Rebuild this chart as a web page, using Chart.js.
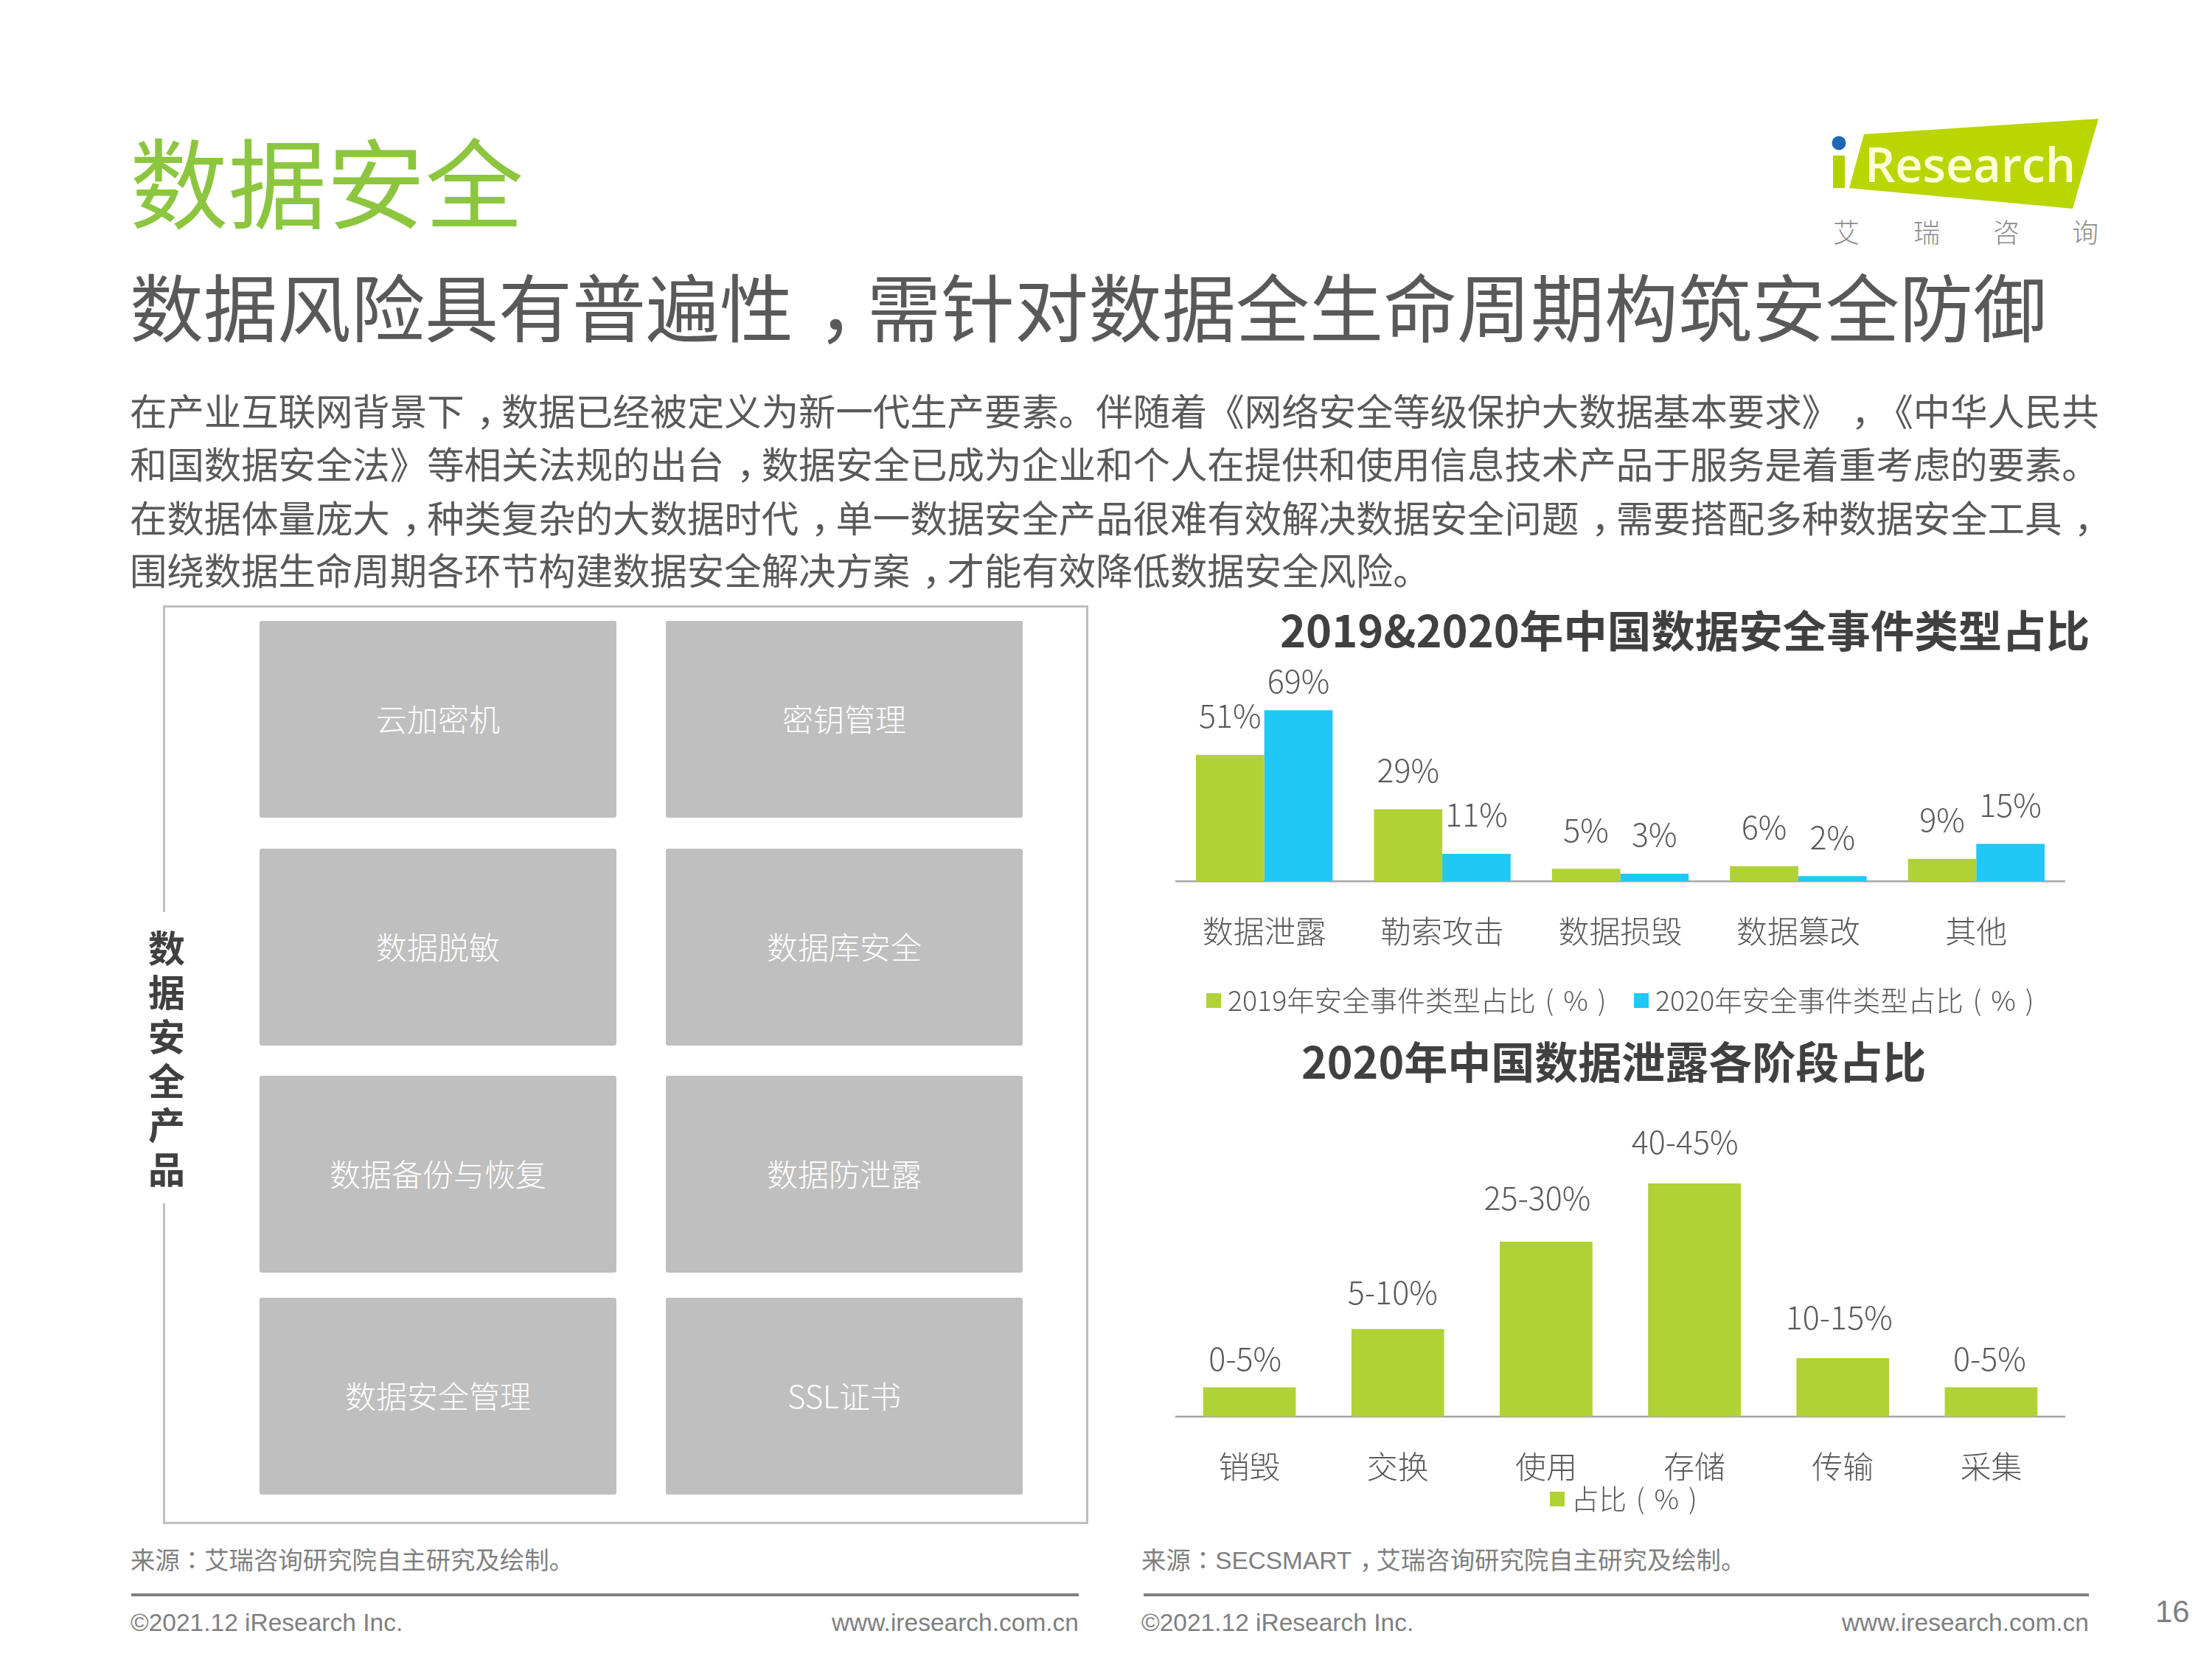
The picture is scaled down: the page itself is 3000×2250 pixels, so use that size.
<!DOCTYPE html>
<html lang="zh-CN">
<head>
<meta charset="utf-8">
<title>数据安全</title>
<script src="https://cdn.jsdelivr.net/npm/chart.js@4"></script>
<style>
  html, body { margin: 0; padding: 0; background: #fff; }
  #page { position: relative; width: 3000px; height: 2250px; overflow: hidden; font-family: "Noto Sans CJK SC", sans-serif; font-weight: 300; color: #595959; text-spacing-trim: space-all; }
  #page > * { position: absolute; }
  .t { white-space: nowrap; line-height: 1; }
  /* the slide centres its colons and commas in the cell */
  .punct { font-family: "Noto Sans CJK TC", sans-serif; }
  .comma { margin-left: 0.33em; letter-spacing: -0.33em; }
  .body-line { left: 176px; font-size: 50.4px; font-weight: 400; }
  .chart-title { font-weight: 700; color: #404040; }
  .box { background: #bfbfbf; border-radius: 3px; color: #fff; font-size: 42px; display: flex; align-items: center; justify-content: center; width: 484px; padding-bottom: 4px; box-sizing: border-box; }
  .source { font: 33.4px "Liberation Sans", "Noto Sans CJK SC", sans-serif; color: #7f7f7f; }
  .foot { font: 33.5px "Liberation Sans", sans-serif; color: #7f7f7f; }
  .rule { height: 4px; background: #808080; top: 2161px; }
  canvas { display: block; }
</style>
</head>
<body>
<div id="page">
  <div class="t" style="left:176px;top:175px;font-size:133.5px;color:#8cc63f;font-weight:400">数据安全</div>
  <div class="t" style="left:176px;top:363px;font-size:100px;font-weight:400">数据风险具有普遍性，需针对数据全生命周期构筑安全防御</div>

  <svg style="left:2470px;top:150px" width="400" height="190" viewBox="2470 150 400 190">
    <polygon points="2528,182 2846,161 2811,283 2508,255" fill="#bad600"/>
    <rect x="2486" y="211" width="16" height="44" fill="#b5d000"/>
    <circle cx="2494" cy="194" r="9.5" fill="#2166b5"/>
    <text x="2529" y="247" font-family="Open Sans" font-weight="600" font-size="66" textLength="286" lengthAdjust="spacingAndGlyphs" fill="#feffd8">Research</text>
    <g font-family="Noto Sans CJK SC" font-weight="300" font-size="36" fill="#8c8c8c" text-anchor="middle">
      <text x="2504" y="329">艾</text><text x="2613" y="329">瑞</text><text x="2721" y="329">咨</text><text x="2828" y="329">询</text>
    </g>
  </svg>

  <div class="t body-line" style="top:531px">在产业互联网背景下，数据已经被定义为新一代生产要素。伴随着《网络安全等级保护大数据基本要求》，《中华人民共</div>
  <div class="t body-line" style="top:603px">和国数据安全法》等相关法规的出台，数据安全已成为企业和个人在提供和使用信息技术产品于服务是着重考虑的要素。</div>
  <div class="t body-line" style="top:676px">在数据体量庞大，种类复杂的大数据时代，单一数据安全产品很难有效解决数据安全问题，需要搭配多种数据安全工具，</div>
  <div class="t body-line" style="top:747px">围绕数据生命周期各环节构建数据安全解决方案，才能有效降低数据安全风险。</div>

  <div style="left:221px;top:821px;width:1255px;height:1246px;border:3.5px solid #bfbfbf;box-sizing:border-box"></div>
  <div style="left:205px;top:1237px;width:45px;height:395px;background:#fff"></div>
  <div class="t" style="left:201px;top:1261px;font-size:50px;font-weight:700;color:#404040;writing-mode:vertical-rl;text-orientation:upright;letter-spacing:10px">数据安全产品</div>
  <div id="boxes" style="left:0;top:0"></div>

  <div class="t chart-title" style="left:1736px;top:823px;font-size:59.5px">2019&amp;2020年中国数据安全事件类型占比</div>
  <div style="left:1594px;top:880px"><canvas id="typeChart" width="1207" height="515"></canvas></div>
  <div class="t chart-title" style="left:1765px;top:1408px;font-size:59px">2020年中国数据泄露各阶段占比</div>
  <div style="left:1594px;top:1480px"><canvas id="stageChart" width="1207" height="590"></canvas></div>

  <div class="t source" style="left:177px;top:2089px">来源：艾瑞咨询研究院自主研究及绘制。</div>
  <div class="t source" style="left:1548px;top:2089px">来源：SECSMART，艾瑞咨询研究院自主研究及绘制。</div>
  <div class="rule" style="left:178px;width:1285px"></div>
  <div class="rule" style="left:1551px;width:1282px"></div>
  <div class="t foot" style="left:177px;top:2182px">©2021.12 iResearch Inc.</div>
  <div class="t foot" style="right:1537px;top:2182px">www.iresearch.com.cn</div>
  <div class="t foot" style="left:1548px;top:2182px">©2021.12 iResearch Inc.</div>
  <div class="t foot" style="right:167px;top:2182px">www.iresearch.com.cn</div>
  <div class="t foot" style="left:2923px;top:2162px;font-size:42px">16</div>
</div>

<script>
// chart data
const typeCategories = ['数据泄露', '勒索攻击', '数据损毁', '数据篡改', '其他'];
const types2019 = [51, 29, 5, 6, 9];
const types2020 = [69, 11, 3, 2, 15];
const typeSeriesNames = ['2019年安全事件类型占比（%）', '2020年安全事件类型占比（%）'];

const stageCategories = ['销毁', '交换', '使用', '存储', '传输', '采集'];
const stageValues = [5, 15, 30, 40, 10, 5];
const stageLabels = ['0-5%', '5-10%', '25-30%', '40-45%', '10-15%', '0-5%'];
const stageSeriesName = '占比（%）';

const productNames = ['云加密机', '密钥管理', '数据脱敏', '数据库安全', '数据备份与恢复', '数据防泄露', '数据安全管理', 'SSL证书'];

const GREEN = '#b1d235';
const BLUE = '#1fc8f5';
const TEXT = '#595959';
const FONT = '"Noto Sans CJK SC", sans-serif';

// swap commas and colons in the page text to the centred glyphs
document.querySelectorAll('.t').forEach(el => {
  el.innerHTML = el.innerHTML
    .replace(/，/g, '<span class="comma">，</span>')
    .replace(/：/g, '<span class="punct" lang="zh-TW">：</span>');
});

// product boxes
const rowTops = [842, 1151, 1459, 1760];
const colLefts = [352, 903];
const boxHeight = 267;
const boxes = document.getElementById('boxes');
productNames.forEach((name, i) => {
  const box = document.createElement('div');
  box.className = 'box';
  box.textContent = name;
  box.style.cssText = `position:absolute;left:${colLefts[i % 2]}px;top:${rowTops[Math.floor(i / 2)]}px;height:${boxHeight}px`;
  boxes.appendChild(box);
});

// value labels above the bars, chart.js has no built in data labels
const valueLabels = {
  id: 'valueLabels',
  afterDatasetsDraw(chart, args, opts) {
    const ctx = chart.ctx;
    ctx.save();
    ctx.font = `300 43px ${FONT}`;
    ctx.fillStyle = TEXT;
    ctx.textAlign = 'center';
    ctx.textBaseline = 'middle';
    chart.data.datasets.forEach((ds, d) => {
      chart.getDatasetMeta(d).data.forEach((bar, i) => {
        const lift = opts.lift[i] !== undefined ? opts.lift[i] : opts.lift;
        const dx = opts.dx ? opts.dx[i] : 0;
        const y = Math.max(bar.y - lift, opts.minY || 0);
        ctx.fillText(opts.text ? opts.text[i] : ds.data[i] + '%', bar.x + dx, y);
      });
    });
    ctx.restore();
  }
};

// legend row drawn by hand, the built in one has a wider gap after the box
const legendRow = {
  id: 'legendRow',
  afterDraw(chart, args, opts) {
    const ctx = chart.ctx;
    ctx.save();
    ctx.textBaseline = 'middle';
    chart.data.datasets.forEach((ds, d) => {
      const x = opts.x[d];
      ctx.fillStyle = ds.backgroundColor;
      ctx.fillRect(x, opts.y - 10, 20, 20);
      ctx.fillStyle = TEXT;
      // brackets sit centred in their cell on the slide, so place them by hand
      let textX = x + 29;
      ds.label.split(/([（）])/).filter(Boolean).forEach(part => {
        ctx.font = `300 37.5px ${FONT}`;
        if (/[（）]/.test(part)) {
          const ascii = part === '（' ? '(' : ')';
          const cell = 37.5;
          ctx.fillText(ascii, textX + (cell - ctx.measureText(ascii).width) / 2, opts.y);
          textX += cell;
        } else {
          ctx.fillText(part, textX, opts.y);
          textX += ctx.measureText(part).width;
        }
      });
    });
    ctx.restore();
  }
};

function barOptions(yMax, topPad, axisHeight, labelOpts, legendOpts) {
  return {
    responsive: false,
    animation: false,
    layout: { padding: { top: topPad, left: 0, right: 0, bottom: 0 } },
    scales: {
      x: {
        afterFit: scale => {
          scale.height = axisHeight;
          scale.paddingLeft = 0;
          scale.paddingRight = 0;
        },
        grid: { display: false, drawTicks: false },
        border: { color: '#a6a6a6', width: 2.5 },
        ticks: { color: TEXT, padding: 43, maxRotation: 0, font: { family: FONT, size: 42, weight: 300 } }
      },
      y: { display: false, min: 0, max: yMax }
    },
    plugins: {
      legend: { display: false },
      tooltip: { enabled: false },
      valueLabels: labelOpts,
      legendRow: legendOpts
    }
  };
}

new Chart(document.getElementById('typeChart'), {
  type: 'bar',
  data: {
    labels: typeCategories,
    datasets: [
      { label: typeSeriesNames[0], data: types2019, backgroundColor: GREEN, categoryPercentage: 0.768, barPercentage: 1 },
      { label: typeSeriesNames[1], data: types2020, backgroundColor: BLUE, categoryPercentage: 0.768, barPercentage: 1 }
    ]
  },
  options: barOptions(80, 46.2, 200, { lift: 53, minY: 44 }, { x: [42, 622], y: 477 }),
  plugins: [valueLabels, legendRow]
});

new Chart(document.getElementById('stageChart'), {
  type: 'bar',
  data: {
    labels: stageCategories,
    datasets: [
      { label: stageSeriesName, data: stageValues, backgroundColor: GREEN, categoryPercentage: 1, barPercentage: 0.625 }
    ]
  },
  options: barOptions(50, 46, 149, {
    text: stageLabels,
    lift: [39, 50, 59, 56, 55, 39],
    dx: [-6, -7, -12, -13, -5, -2]
  }, { x: [508], y: 553 }),
  plugins: [valueLabels, legendRow]
});
</script>
</body>
</html>
